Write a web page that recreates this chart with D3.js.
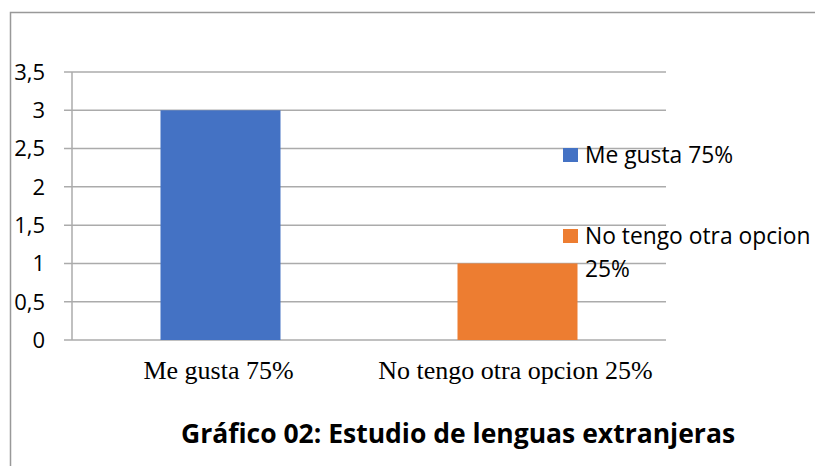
<!DOCTYPE html>
<html>
<head>
<meta charset="utf-8">
<script src="https://cdn.jsdelivr.net/npm/d3@7"></script>
<style>
  body { margin: 0; background: #fff; }
</style>
</head>
<body>
<div id="chart"></div>
<script>
// data
const categories = ["Me gusta 75%", "No tengo otra opcion 25%"];
const values = [3, 1];
const legendLabels = [["Me gusta 75%"], ["No tengo otra opcion", "25%"]];
const colors = ["#4472C4", "#ED7D31"];
const yTicks = [0, 0.5, 1, 1.5, 2, 2.5, 3, 3.5];
const title = "Gráfico 02: Estudio de lenguas extranjeras";

const W = 815, H = 466;
const margin = { top: 72, left: 72, right: 149, bottom: 126 };
const width = W - margin.left - margin.right;
const height = H - margin.top - margin.bottom;

const svg = d3.select("#chart").append("svg")
    .attr("width", W)
    .attr("height", H);

// outer chart border (left + top visible)
svg.append("path")
    .attr("d", `M10.5,${H} L10.5,12.5 L${W},12.5`)
    .attr("fill", "none")
    .attr("stroke", "#999")
    .attr("stroke-width", 1.5);

const g = svg.append("g")
    .attr("transform", `translate(${margin.left},${margin.top})`);

const x = d3.scaleBand()
    .domain(categories)
    .range([0, width])
    .paddingInner(0)
    .paddingOuter(0);

const y = d3.scaleLinear()
    .domain([0, 3.5])
    .range([height, 0]);

// gridlines
g.append("g")
    .selectAll("line")
    .data(yTicks)
    .join("line")
    .attr("x1", -8)
    .attr("x2", width)
    .attr("y1", d => y(d))
    .attr("y2", d => y(d))
    .attr("stroke", "#ababab")
    .attr("stroke-width", 1.5);

// y axis line
g.append("line")
    .attr("x1", 0).attr("x2", 0)
    .attr("y1", 0).attr("y2", height)
    .attr("stroke", "#ababab")
    .attr("stroke-width", 1.5);

// y tick labels
g.append("g")
    .selectAll("text")
    .data(yTicks)
    .join("text")
    .attr("x", -27)
    .attr("y", d => y(d))
    .attr("dy", "0.36em")
    .attr("text-anchor", "end")
    .style("font-family", "'Open Sans', sans-serif")
    .style("font-size", "22px")
    .attr("fill", "#000")
    .text(d => String(d).replace(".", ","));

// bars
const barW = 120;
g.append("g")
    .selectAll("rect")
    .data(values)
    .join("rect")
    .attr("x", (d, i) => x(categories[i]) + x.bandwidth() / 2 - barW / 2)
    .attr("width", barW)
    .attr("y", d => y(d))
    .attr("height", d => height - y(d))
    .attr("fill", (d, i) => colors[i]);

// x labels
g.append("g")
    .selectAll("text")
    .data(categories)
    .join("text")
    .attr("x", d => x(d) + x.bandwidth() / 2 - 2)
    .attr("y", height + 39)
    .attr("text-anchor", "middle")
    .style("font-family", "'Liberation Serif', serif")
    .style("font-size", "26px")
    .attr("fill", "#000")
    .text(d => d);

// legend
const legend = svg.append("g");
const legendY = [148, 229];
legendLabels.forEach((lines, i) => {
    legend.append("rect")
        .attr("x", 563)
        .attr("y", legendY[i])
        .attr("width", 15)
        .attr("height", 14)
        .attr("fill", colors[i]);
    legend.append("text")
        .attr("x", 585)
        .attr("y", legendY[i] + 15)
        .style("font-family", "'Open Sans', sans-serif")
        .style("font-size", "22.8px")
        .attr("fill", "#000")
        .selectAll("tspan")
        .data(lines)
        .join("tspan")
        .attr("x", 585)
        .attr("dy", (d, j) => j === 0 ? 0 : 33)
        .text(d => d);
});

// title
svg.append("text")
    .attr("x", 458)
    .attr("y", 443)
    .attr("text-anchor", "middle")
    .style("font-family", "'Open Sans', sans-serif")
    .style("font-size", "26.5px")
    .style("font-weight", "bold")
    .attr("fill", "#000")
    .text(title);
</script>
</body>
</html>
